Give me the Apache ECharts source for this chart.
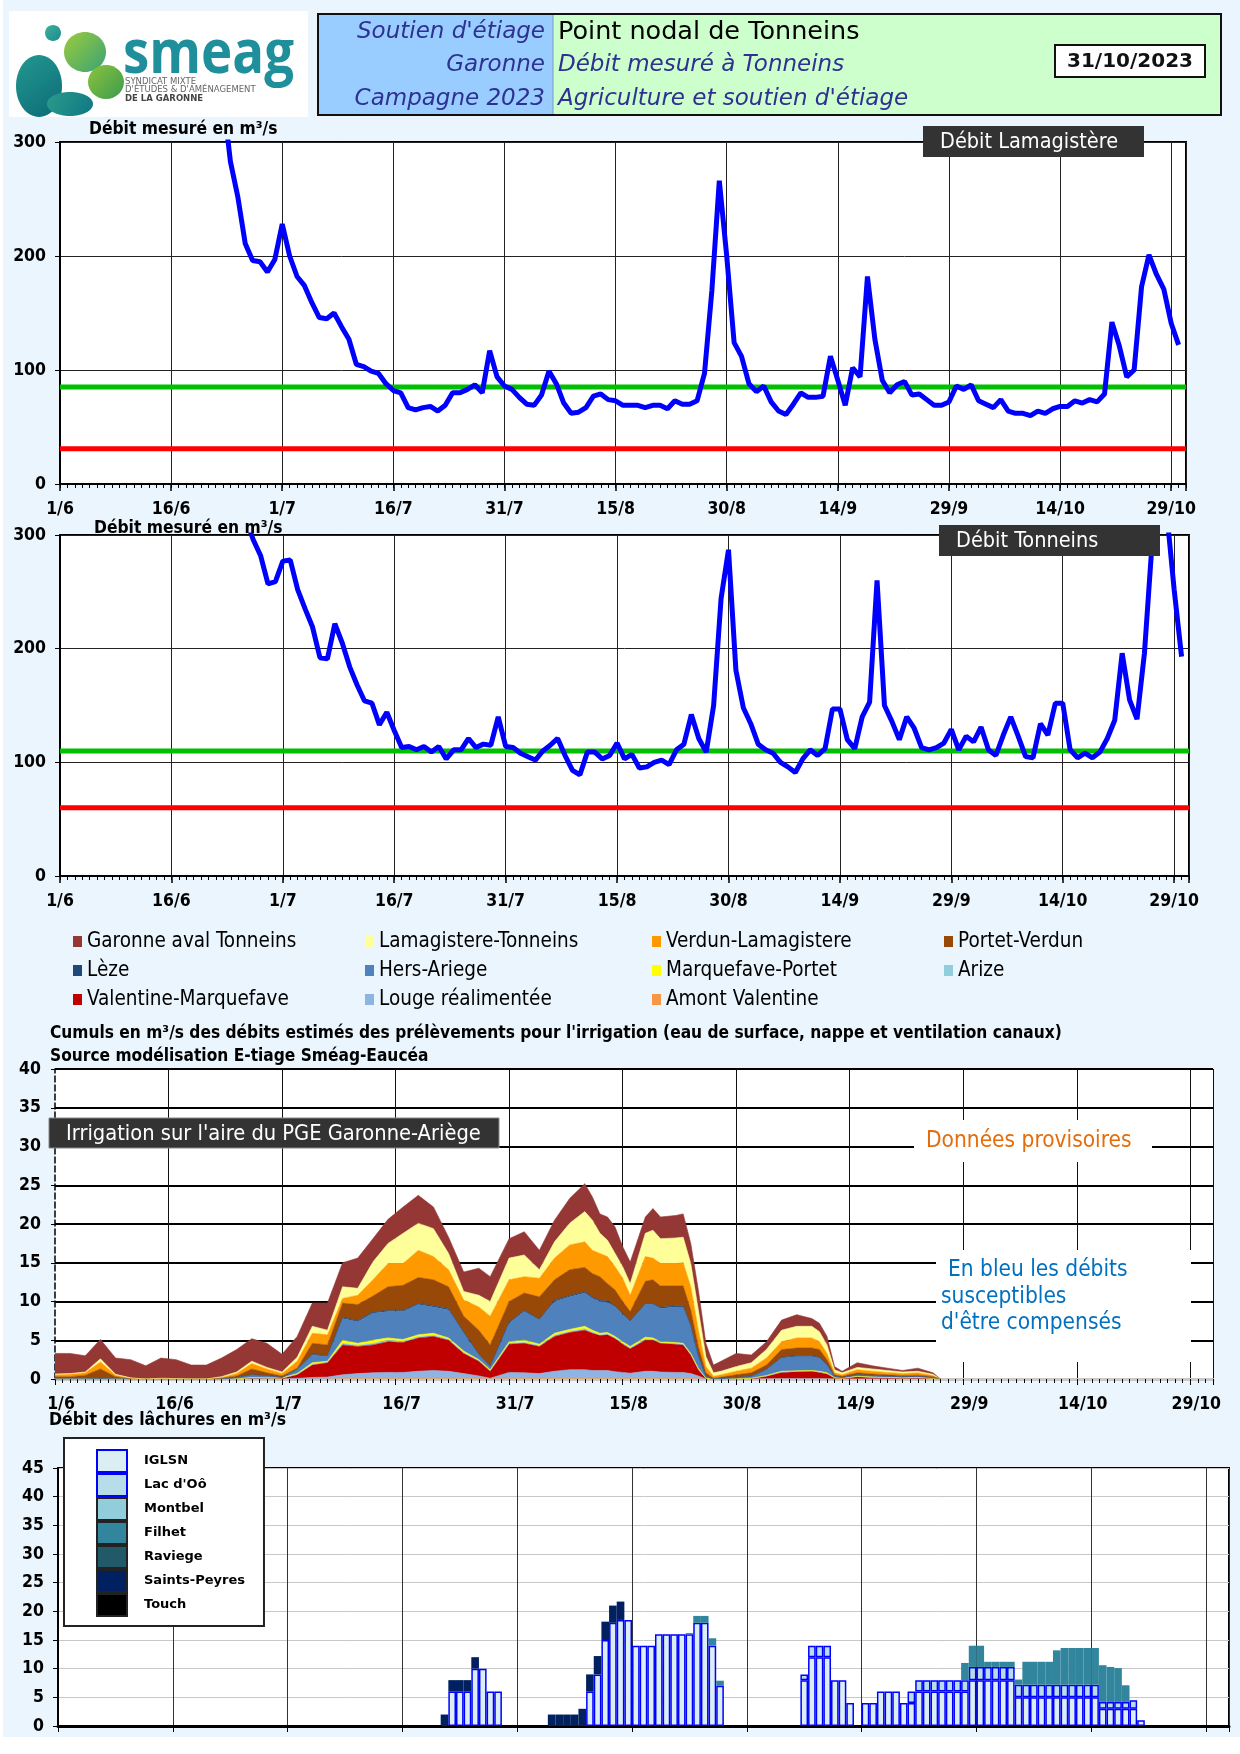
<!DOCTYPE html>
<html><head><meta charset="utf-8">
<script src="https://cdn.jsdelivr.net/npm/echarts@6/dist/echarts.min.js"></script>
<style>
html,body{margin:0;padding:0;background:#fff;}
#bg{position:absolute;left:3px;top:0;width:1237px;height:1737px;background:#eaf5fd;}
#chart{position:absolute;left:0;top:0;width:1240px;height:1754px;}
</style></head><body><div id="bg"></div><div id="chart"></div>
<script>
// ---------- DATA ----------
const tickLabels = ['1/6','16/6','1/7','16/7','31/7','15/8','30/8','14/9','29/9','14/10','29/10'];

// Débit Lamagistère (m3/s), daily from day 22 (23/6)
const lamaStart = 22;
const lamaFlow = [340,283,252,211,196,195,186,197,228,200,
182,174,159,146,145,150,138,127,105,103,
99,97,88,82,80,67,65,67,68,64,
69,80,80,83,87,80,117,94,86,83,
76,70,69,78,99,88,71,62,63,67,
77,79,74,73,69,69,69,67,69,69,
66,73,70,70,73,97,170,266,200,124,
112,88,81,86,72,64,61,70,80,76,
76,77,112,91,69,102,94,182,127,91,
80,87,90,78,79,74,69,69,72,86,
83,87,73,70,67,74,64,62,62,60,
64,62,66,68,68,73,71,74,72,79,
142,121,94,100,173,201,184,171,141,122];
const lamaDOE = 85, lamaDCR = 31;

// Débit Tonneins (m3/s), daily from day 25 (26/6)
const tonnStart = 25;
const tonnFlow = [315,296,282,257,259,277,278,252,235,219,
192,191,222,205,184,168,154,152,133,144,
128,113,114,111,114,109,114,103,111,111,
121,113,116,115,140,114,113,108,105,102,
110,115,121,106,93,89,109,109,103,106,
117,103,107,95,96,100,102,98,111,116,
142,121,109,150,244,287,181,148,134,116,
111,108,100,96,91,103,111,106,112,147,
147,120,112,140,153,260,150,136,120,140,
130,113,111,113,117,129,111,123,118,131,
111,106,124,140,123,105,104,134,124,152,
152,111,104,108,104,109,121,137,196,155,
138,196,290,340,320,252,193];
const tonnDOE = 110, tonnDCR = 60;

// Irrigation withdrawals (m3/s) – days since 1/6
const irrDays = [0,2,4,6,8,10,12,14,16,18,20,22,24,26,28,30, 32,34,36,38,40,42,44,46,48,50,52,54,56, 57.5, 60,62,64,66,68,70, 71,72,73,74,75,76,78,79,80, 82,83,84,85,86, 87,88,90,92,94, 96,98,100,101,102, 103,104,106,108,110, 112,114,116,117];
const irrGaronneAvalTonneins = [2.65,2.6,2.1,2.5,2.1,2.35,1.7,2.6,2.45,1.8,1.8,2.4,2.9,2.9,3.1,2.3, 2.7,3.0,3.5,3.1,3.9,3.0,3.1,3.4,3.6,2.8,2.1,2.5,3.5, 3.2, 2.5,3.0,2.5,2.8,3.2,3.6, 3.0,2.5,3.0,3.4,2.6,2.8,2.1,2.8,2.8, 2.9,3.0,2.6,2.6,1.7, 1.0,1.3,1.7,1.0,1.0, 1.3,1.5,1.0,1.1,1.1, 0.4,0.2,0.6,0.4,0.3, 0.2,0.4,0.2,0];
const irrLamagistereTonneins = [0.1,0.1,0.1,0.4,0.1,0.05,0,0.05,0.05,0,0,0.1,0.2,0.3,0.2,0.2, 0.5,0.9,0.6,1.5,0.9,2.3,2.6,3.9,3.5,3.6,2.1,1.1,1.5, 1.9, 2.8,2.8,1.1,2.1,2.8,3.9, 3.9,2.6,2.1,1.7,1.5,1.5,3.0,3.6,3.2, 3.3,3.3,3.0,2.6,1.3, 0.45,0.45,0.6,0.7,1.1, 1.5,1.5,1.5,1.3,1.1, 0.4,0.25,0.3,0.3,0.25, 0.2,0.2,0.15,0];
const irrVerdunLamagistere = [0.25,0.3,0.3,0.9,0.2,0.05,0,0.05,0,0,0,0.1,0.3,0.7,0.5,0.3, 0.9,1.3,1.3,0.6,1.2,2.1,3.0,2.8,3.5,3.0,2.2,2.1,3.0, 3.7, 2.8,2.1,2.4,2.8,3.2,3.3, 3.0,3.0,3.5,3.0,3.0,2.1,3.2,2.8,2.9, 2.9,3.0,3.0,2.1,0.8, 0.25,0.3,0.45,0.6,0.9, 1.0,1.3,1.3,1.0,0.8, 0.25,0.2,0.4,0.35,0.3, 0.25,0.3,0.15,0];
const irrPortetVerdun = [0.3,0.3,0.5,1.25,0.3,0.05,0,0,0,0,0,0.1,0.2,0.75,0.35,0.2, 0.15,1.4,1.4,1.85,2.05,2.05,3.05,3.25,3.35,3.35,2.85,2.05,3.1, 2.75, 2.65,2.25,2.85,2.65,3.35,3.15, 3.05,3.05,2.25,2.05,1.55,1.15,2.85,3.05,2.75, 2.55,2.55,2.0,1.25,0.45, 0.1,0.2,0.35,0.45,0.55, 1.0,1.0,1.0,1.0,0.65, 0.2,0.15,0.25,0.2,0.2, 0.15,0.15,0.1,0];
const irrLeze = [0,0,0,0,0,0,0,0,0,0,0,0,0,0.05,0.05,0, 0.05,0.1,0.1,0.15,0.15,0.15,0.15,0.15,0.15,0.15,0.15,0.15,0.1, 0.05, 0.15,0.15,0.15,0.15,0.15,0.15, 0.15,0.15,0.15,0.15,0.15,0.15,0.15,0.15,0.15, 0.15,0.15,0.1,0.05,0, 0,0,0,0,0.05, 0.1,0.1,0.1,0.1,0.05, 0,0,0,0,0, 0,0,0,0];
const irrHersAriege = [0,0,0,0.05,0,0,0,0,0,0,0,0,0.2,0.3,0.25,0.05, 0.5,1.0,0.6,2.8,2.8,3.5,3.4,3.6,3.9,3.4,3.6,2.3,0.6, 0.4, 2.4,3.7,3.1,4.1,4.2,4.3, 4.1,4.1,3.9,3.8,3.5,3.2,4.2,4.3,4.3, 4.6,4.7,3.5,1.5,0.25, 0,0.05,0.2,0.25,0.75, 1.7,1.85,1.8,1.7,1.0, 0.2,0.1,0.2,0.2,0.15, 0.15,0.15,0.1,0];
const irrMarquefavePortet = [0,0,0,0,0,0,0,0,0,0,0,0,0,0.03,0.03,0.03, 0.1,0.2,0.12,0.4,0.25,0.4,0.3,0.25,0.25,0.25,0.18,0.18,0.12, 0.12, 0.18,0.25,0.18,0.25,0.25,0.3, 0.25,0.18,0.18,0.18,0.18,0.18,0.25,0.18,0.12, 0.12,0.12,0.12,0.12,0, 0,0,0,0.03,0.06, 0.09,0.06,0.06,0.09,0.09, 0,0,0.03,0.03,0.03, 0.02,0.03,0,0];
const irrArize = [0,0,0,0,0,0,0,0,0,0,0,0,0,0.02,0.02,0.02, 0.05,0.1,0.08,0.2,0.15,0.2,0.2,0.15,0.15,0.15,0.12,0.12,0.08, 0.08, 0.12,0.15,0.12,0.15,0.15,0.2, 0.15,0.12,0.12,0.12,0.12,0.12,0.15,0.12,0.08, 0.08,0.08,0.08,0.08,0, 0,0,0,0.02,0.04, 0.06,0.04,0.04,0.06,0.06, 0,0,0.02,0.02,0.02, 0.01,0.02,0,0];
const irrValentineMarquefave = [0,0,0,0,0,0,0,0,0,0,0,0,0,0.1,0.05,0.1, 0.45,1.6,1.85,3.85,3.5,3.6,3.95,3.85,4.3,4.4,4.0,2.6,1.9, 0.9, 3.65,3.8,3.5,4.5,4.8,5.1, 4.8,4.5,4.6,4.25,3.65,3.15,4.0,4.0,3.7, 3.65,3.55,2.4,0.8,0.1, 0,0,0,0.05,0.33, 0.8,0.9,0.95,0.8,0.62, 0.15,0.1,0.3,0.2,0.15, 0.12,0.15,0.1,0];
const irrLouge = [0,0,0,0,0,0,0,0,0,0,0,0,0,0.05,0.05,0, 0.1,0.2,0.25,0.5,0.65,0.75,0.8,0.8,0.95,1.05,0.95,0.65,0.35, 0.08, 0.8,0.75,0.65,0.95,1.15,1.15, 1.05,1.05,1.05,0.9,0.8,0.7,0.95,0.95,0.85, 0.8,0.8,0.65,0.37,0, 0,0,0,0,0, 0.03,0.03,0.03,0.03,0.02, 0,0,0,0,0, 0,0,0,0];
const irrAmontValentine = [0,0,0,0,0,0,0,0,0,0,0,0,0,0,0,0, 0,0,0,0.05,0.05,0.05,0.05,0.05,0.05,0.05,0.05,0.05,0.05, 0.02, 0.05,0.05,0.05,0.05,0.05,0.05, 0.05,0.05,0.05,0.05,0.05,0.05,0.05,0.05,0.05, 0.05,0.05,0.05,0.03,0, 0,0,0,0,0.02, 0.02,0.02,0.02,0.02,0.01, 0,0,0,0,0, 0,0,0,0];

// Lâchures (m3/s): [day since 1/6, value]
const lachIGLSN = [[51,6],[52,6],[53,6],[54,10],[55,10],[56,6],[57,6],[69,6],[70,9],[71,15],[72,18],[73,18.5],[74,18.5],[75,14],[76,14],[77,14],[78,16],[79,16],[80,16],[81,16],[82,16],[83,18],[84,18],[85,14],[86,7],[97,8],[98,12],[99,12],[100,12],[101,8],[102,8],[103,4],[105,4],[106,4],[107,6],[108,6],[109,6],[110,4],[111,4],[112,6],[113,6],[114,6],[115,6],[116,6],[117,6],[118,6],[119,8],[120,8],[121,8],[122,8],[123,8],[124,8],[125,5],[126,5],[127,5],[128,5],[129,5],[130,5],[131,5],[132,5],[133,5],[134,5],[135,5],[136,3],[137,3],[138,3],[139,3],[140,3],[141,1]];
const lachOo = [[97,1],[98,2],[99,2],[100,2],[111,2],[112,2],[113,2],[114,2],[115,2],[116,2],[117,2],[118,2],[119,2.3],[120,2.3],[121,2.3],[122,2.3],[123,2.3],[124,2.3],[125,2.2],[126,2.2],[127,2.2],[128,2.2],[129,2.2],[130,2.2],[131,2.2],[132,2.2],[133,2.2],[134,2.2],[135,2.2],[136,1.2],[137,1.2],[138,1.2],[139,1.2],[140,1.5]];
const lachMontbel = [];
const lachFilhet = [[82,0.2],[83,1.2],[84,1.2],[85,1.3],[86,0.9],[118,3],[119,3.7],[120,3.7],[121,0.9],[122,0.9],[123,0.9],[124,0.9],[125,0.9],[126,4],[127,4],[128,4],[129,4],[130,6],[131,6.4],[132,6.4],[133,6.4],[134,6.4],[135,6.4],[136,6.4],[137,6.1],[138,5.9],[139,2.9]];
const lachRaviege = [];
const lachSaintsPeyres = [[50,2],[51,2],[52,2],[53,2],[54,2],[64,2],[65,2],[66,2],[67,2],[68,3],[69,3],[70,3.2],[71,3.2],[72,3],[73,3.2]];
const lachTouch = [];

// ---------- HELPERS ----------
const COND = "'DejaVu Sans Condensed','Liberation Sans Narrow','DejaVu Sans',sans-serif";
const SANS = "'DejaVu Sans',sans-serif";
const BLUE_TXT = '#2f3192';
const toPairs = (start, arr) => arr.map((v, i) => [start + i, v]);
const dayLabel = v => (v % 15 === 0 && tickLabels[v / 15] !== undefined) ? tickLabels[v / 15] : '';
const NDAYS = 153;
const dayCats = Array.from({length: NDAYS}, (_, i) => String(i));
const fullDays = pairs => { const a = new Array(NDAYS).fill(null); pairs.forEach(([d, v]) => { a[d] = v; }); return a; };

const labelStyle = {fontFamily: COND, fontWeight: 'bold', fontSize: 17.5, color: '#000'};

function mainX(grid, max) {
  return {gridIndex: grid, type: 'value', position: 'bottom', min: 0, max: max, interval: 15,
    axisLine: {show: true, lineStyle: {color: '#000', width: 2}},
    axisTick: {show: true, length: 7, lineStyle: {color: '#000', width: 1.5}},
    axisLabel: Object.assign({formatter: dayLabel, margin: 16}, labelStyle),
    splitLine: {show: true, lineStyle: {color: '#222', width: 1}}};
}
function minorX(grid, max) {
  return {gridIndex: grid, type: 'value', position: 'bottom', min: 0, max: max, interval: 1,
    axisLine: {show: false}, axisTick: {show: true, length: 4, lineStyle: {color: '#000', width: 1}},
    axisLabel: {show: false}, splitLine: {show: false}};
}
function flowY(grid) {
  return {gridIndex: grid, type: 'value', min: 0, max: 300, interval: 100,
    axisLine: {show: true, lineStyle: {color: '#000', width: 2}},
    axisTick: {show: true, length: 5, lineStyle: {color: '#000'}},
    axisLabel: Object.assign({margin: 14}, labelStyle),
    splitLine: {show: true, lineStyle: {color: '#222', width: 1}}};
}
function lineSeries(name, xi, yi, data, color) {
  return {type: 'line', name, xAxisIndex: xi, yAxisIndex: yi, data, symbol: 'none', silent: true,
    lineStyle: {color, width: 5}, itemStyle: {color}, clip: true, z: 3};
}

// ---------- CHART 3 series (stacked areas) ----------
const irrSeriesDef = [
  ['Amont Valentine', irrAmontValentine, '#f79646'],
  ['Louge réalimentée', irrLouge, '#8db4e2'],
  ['Valentine-Marquefave', irrValentineMarquefave, '#c00000'],
  ['Arize', irrArize, '#92cddc'],
  ['Marquefave-Portet', irrMarquefavePortet, '#ffff00'],
  ['Hers-Ariege', irrHersAriege, '#4f81bd'],
  ['Lèze', irrLeze, '#1f497d'],
  ['Portet-Verdun', irrPortetVerdun, '#984807'],
  ['Verdun-Lamagistere', irrVerdunLamagistere, '#ff9900'],
  ['Lamagistere-Tonneins', irrLamagistereTonneins, '#ffff99'],
  ['Garonne aval Tonneins', irrGaronneAvalTonneins, '#953735']
];
// value first so that the stacked dimension is the flow (mapped to y), day mapped to x
const irrSeries = irrSeriesDef.map(([name, vals, color]) => ({
  type: 'line', name, xAxisIndex: 5, yAxisIndex: 2, stack: 'irr', symbol: 'none', silent: true,
  dimensions: ['flow', 'day'], encode: {x: 'day', y: 'flow'},
  data: irrDays.map((d, i) => [vals[i], d]),
  lineStyle: {width: 0.6, color}, areaStyle: {color, opacity: 1}, itemStyle: {color}
}));

// ---------- CHART 4 series (stacked bars) ----------
const lachDef = [
  ['IGLSN', lachIGLSN, '#dbeef4', '#0000ff', 1.5],
  ["Lac d'Oô", lachOo, '#b7dde8', '#0000ff', 1.5],
  ['Montbel', lachMontbel, '#92cddc', null, 0],
  ['Filhet', lachFilhet, '#31859c', null, 0],
  ['Raviege', lachRaviege, '#215968', null, 0],
  ['Saints-Peyres', lachSaintsPeyres, '#002060', null, 0],
  ['Touch', lachTouch, '#000000', null, 0]
];
const lachSeries = lachDef.map(([name, pairs, color, bc, bw]) => ({
  type: 'bar', name, xAxisIndex: 6, yAxisIndex: 3, stack: 'lach', barCategoryGap: '0%', silent: true,
  data: fullDays(pairs),
  itemStyle: bw ? {color, borderColor: bc, borderWidth: bw} : {color}
}));

// ---------- LEGENDS ----------
const legendCols = [
  ['Garonne aval Tonneins', 'Lèze', 'Valentine-Marquefave'],
  ['Lamagistere-Tonneins', 'Hers-Ariege', 'Louge réalimentée'],
  ['Verdun-Lamagistere', 'Marquefave-Portet', 'Amont Valentine'],
  ['Portet-Verdun', 'Arize']
];
const legendX = [73, 365, 652, 944];
const legends = legendCols.map((names, i) => ({
  left: legendX[i], top: 931, orient: 'vertical', padding: 0, itemGap: 8,
  itemWidth: 9, itemHeight: 11, icon: 'rect', selectedMode: false,
  data: names,
  textStyle: {fontFamily: COND, fontSize: 20.5, color: '#000', lineHeight: 21}
}));
legends.push({
  left: 64, top: 1438, orient: 'vertical', itemGap: 0, itemWidth: 30, itemHeight: 22,
  icon: 'rect', selectedMode: false, backgroundColor: '#fff', borderColor: '#222', borderWidth: 2,
  padding: [11, 19, 9, 32],
  data: lachDef.map(([name, , , bc, bw]) => ({name, itemStyle: bw ? {borderColor: bc, borderWidth: 2} : {borderColor: '#222', borderWidth: 2}})),
  textStyle: {fontFamily: SANS, fontWeight: 'bold', fontSize: 13, color: '#000', padding: [0, 0, 0, 12]}
});

// ---------- GRAPHICS ----------
function txt(x, y, text, o) {
  return {type: 'text', x, y, z: 100, silent: true,
    style: Object.assign({text, fill: '#000', fontFamily: SANS, fontSize: 16, align: 'left', verticalAlign: 'middle'}, o)};
}
function rect(x, y, w, h, o) {
  return {type: 'rect', z: 90, silent: true, shape: {x, y, width: w, height: h}, style: o};
}
function ell(cx, cy, rx, ry, c1, c2) {
  return {type: 'ellipse', z: 95, silent: true, shape: {cx, cy, rx, ry},
    style: {fill: new echarts.graphic.LinearGradient(0, 0, 1, 1, [{offset: 0, color: c1}, {offset: 1, color: c2}])}};
}
const graphics = [
  // logo
  rect(9, 11, 299, 106, {fill: '#fff'}),
  ell(53, 33, 8, 8, '#3fb0a0', '#1a8a8a'),
  ell(85, 52, 21, 20, '#9ccc3c', '#3aa275'),
  ell(39, 86, 23, 31, '#23998f', '#0c6a78'),
  ell(70, 104, 23, 12, '#2a9c8a', '#0f7785'),
  ell(106, 82, 18, 17, '#8cc43c', '#3c9a50'),
  {type: 'text', x: 123, y: 56, z: 100, silent: true, scaleX: 0.88,
    style: {text: 'smeag', fill: '#1e8f9b', fontFamily: "'Open Sans',sans-serif", fontWeight: 'bold', fontSize: 60, align: 'left', verticalAlign: 'middle'}},
  txt(125, 82, 'SYNDICAT MIXTE', {fontSize: 8.5, fill: '#666'}),
  txt(125, 90, "D'ÉTUDES & D'AMÉNAGEMENT", {fontSize: 8.5, fill: '#666'}),
  txt(125, 99, 'DE LA GARONNE', {fontSize: 8.5, fill: '#444', fontWeight: 'bold'}),
  // title block
  rect(318, 14, 903, 101, {fill: '#ccffcc', stroke: '#111', lineWidth: 2}),
  rect(319, 15, 234, 99, {fill: '#99ccff'}),
  {type: 'line', z: 91, silent: true, shape: {x1: 553, y1: 15, x2: 553, y2: 114}, style: {stroke: '#7a9ac0', lineWidth: 1}},
  txt(545, 32, "Soutien d'étiage", {fontStyle: 'italic', fontSize: 23, fill: BLUE_TXT, align: 'right'}),
  txt(545, 65, 'Garonne', {fontStyle: 'italic', fontSize: 23, fill: BLUE_TXT, align: 'right'}),
  txt(545, 99, 'Campagne 2023', {fontStyle: 'italic', fontSize: 23, fill: BLUE_TXT, align: 'right'}),
  txt(558, 32, 'Point nodal de Tonneins', {fontSize: 25.5, fill: '#000'}),
  txt(558, 65, 'Débit mesuré à Tonneins', {fontStyle: 'italic', fontSize: 23, fill: BLUE_TXT}),
  txt(558, 99, "Agriculture et soutien d'étiage", {fontStyle: 'italic', fontSize: 23, fill: BLUE_TXT}),
  rect(1055, 45, 150, 32, {fill: '#fff', stroke: '#111', lineWidth: 2}),
  txt(1130, 62, '31/10/2023', {fontSize: 20, fontWeight: 'bold', align: 'center', fill: '#111'}),
  // chart 1
  txt(89, 130, 'Débit mesuré en m³/s', {fontFamily: COND, fontWeight: 'bold', fontSize: 17.3}),
  rect(923, 126, 221, 31, {fill: '#333333'}),
  txt(940, 142, 'Débit Lamagistère', {fontFamily: COND, fontSize: 21.5, fill: '#fff'}),
  // chart 2
  txt(94, 529, 'Débit mesuré en m³/s', {fontFamily: COND, fontWeight: 'bold', fontSize: 17.3}),
  rect(939, 525, 221, 31, {fill: '#333333'}),
  txt(956, 541, 'Débit Tonneins', {fontFamily: COND, fontSize: 21.5, fill: '#fff'}),
  // chart 3
  txt(50, 1034, "Cumuls en m³/s des débits estimés des prélèvements pour l'irrigation (eau de surface, nappe et ventilation canaux)", {fontFamily: COND, fontWeight: 'bold', fontSize: 17.2}),
  txt(50, 1057, 'Source modélisation E-tiage Sméag-Eaucéa', {fontFamily: COND, fontWeight: 'bold', fontSize: 17.2}),
  rect(49, 1118, 450, 30, {fill: '#333333', stroke: '#888', lineWidth: 1}),
  txt(66, 1134, "Irrigation sur l'aire du PGE Garonne-Ariège", {fontFamily: COND, fontSize: 21.7, fill: '#fff'}),
  rect(914, 1120, 238, 42, {fill: '#fff'}),
  txt(926, 1141, 'Données provisoires', {fontFamily: COND, fontSize: 22.5, fill: '#e46c0a'}),
  rect(936, 1250, 255, 112, {fill: '#fff'}),
  txt(948, 1270, 'En bleu les débits', {fontFamily: COND, fontSize: 22.5, fill: '#0070c0'}),
  txt(941, 1297, 'susceptibles', {fontFamily: COND, fontSize: 22.5, fill: '#0070c0'}),
  txt(941, 1323, "d'être compensés", {fontFamily: COND, fontSize: 22.5, fill: '#0070c0'}),
  // chart 4
  txt(49, 1420, 'Débit des lâchures en m³/s', {fontFamily: COND, fontWeight: 'bold', fontSize: 17.5})
];

// ---------- OPTION ----------
const option = {
  animation: false,
  backgroundColor: 'transparent',
  grid: [
    {left: 60, top: 142, width: 1126, height: 342, show: true, backgroundColor: '#fff', borderColor: '#000', borderWidth: 2},
    {left: 60, top: 535, width: 1129, height: 341, show: true, backgroundColor: '#fff', borderColor: '#000', borderWidth: 2},
    {left: 55, top: 1069, width: 1158, height: 310, show: true, backgroundColor: '#fff', borderWidth: 0},
    {left: 58, top: 1468, width: 1171, height: 258, show: true, backgroundColor: '#fff', borderColor: '#000', borderWidth: 2}
  ],
  xAxis: [
    mainX(0, 152), minorX(0, 152),
    mainX(1, 152), minorX(1, 152),
    minorX(2, 153),
    {gridIndex: 2, type: 'value', position: 'bottom', min: 0, max: 153, interval: 15,
      axisLine: {show: true, lineStyle: {color: '#c8c8c8', width: 3}},
      axisTick: {show: true, length: 6, lineStyle: {color: '#000', width: 1}},
      axisLabel: Object.assign({formatter: dayLabel, margin: 16, padding: [0, 0, 0, 12]}, labelStyle),
      splitLine: {show: true, showMinLine: false, lineStyle: {color: '#111', width: 1}}},
    {gridIndex: 3, type: 'category', position: 'bottom', data: dayCats, boundaryGap: true,
      axisLine: {show: true, lineStyle: {color: '#000', width: 3}},
      axisTick: {show: true, length: 6, interval: i => i % 15 === 0, lineStyle: {color: '#000', width: 1}},
      axisLabel: {show: false},
      splitLine: {show: true, interval: i => i % 15 === 0, lineStyle: {color: '#333', width: 1}}}
  ],
  yAxis: [
    flowY(0), flowY(1),
    {gridIndex: 2, type: 'value', min: 0, max: 40, interval: 5,
      axisLine: {show: true, lineStyle: {color: '#000', width: 1.5, type: 'dashed'}},
      axisTick: {show: true, length: 4, lineStyle: {color: '#000'}},
      axisLabel: Object.assign({margin: 14}, labelStyle),
      splitLine: {show: true, showMinLine: false, lineStyle: {color: '#000', width: 2}}},
    {gridIndex: 3, type: 'value', min: 0, max: 45, interval: 5,
      axisLine: {show: true, lineStyle: {color: '#000', width: 2}},
      axisTick: {show: true, length: 5, lineStyle: {color: '#000'}},
      axisLabel: Object.assign({margin: 14}, labelStyle),
      splitLine: {show: true, lineStyle: {color: '#c8c8c8', width: 1}}}
  ],
  legend: legends,
  series: [
    lineSeries('DOE Lamagistère', 0, 0, [[0, lamaDOE], [152, lamaDOE]], '#00c000'),
    lineSeries('DCR Lamagistère', 0, 0, [[0, lamaDCR], [152, lamaDCR]], '#ff0000'),
    lineSeries('Débit Lamagistère', 0, 0, toPairs(lamaStart, lamaFlow), '#0000ff'),
    lineSeries('DOE Tonneins', 2, 1, [[0, tonnDOE], [152, tonnDOE]], '#00c000'),
    lineSeries('DCR Tonneins', 2, 1, [[0, tonnDCR], [152, tonnDCR]], '#ff0000'),
    lineSeries('Débit Tonneins', 2, 1, toPairs(tonnStart, tonnFlow), '#0000ff'),
    ...irrSeries,
    ...lachSeries
  ],
  graphic: {elements: graphics}
};

const chart = echarts.init(document.getElementById('chart'), null, {renderer: 'canvas', width: 1240, height: 1754});
chart.setOption(option);
</script></body></html>
